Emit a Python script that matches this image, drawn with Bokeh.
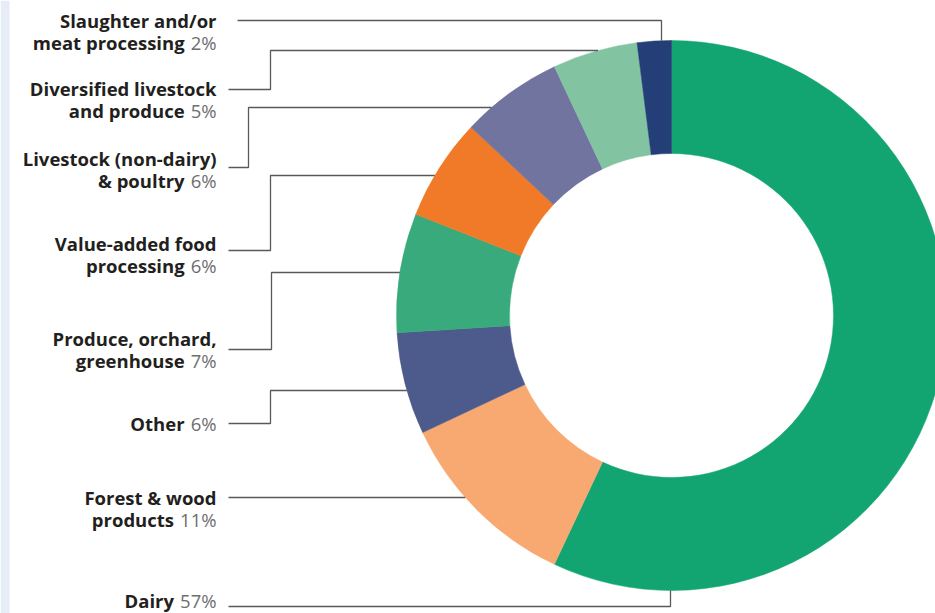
import math
from bokeh.plotting import figure
from bokeh.models import Range1d, ColumnDataSource
from bokeh.core.properties import value
from bokeh.embed import file_html
from bokeh.resources import INLINE

# ---- data ----
categories = ["Dairy", "Forest & wood products", "Other", "Produce, orchard, greenhouse",
              "Value-added food processing", "Livestock (non-dairy) & poultry",
              "Diversified livestock and produce", "Slaughter and/or meat processing"]
shares = [57, 11, 6, 7, 6, 6, 5, 2]
label_lines = [["Dairy"], ["Forest & wood", "products"], ["Other"],
               ["Produce, orchard,", "greenhouse"], ["Value-added food", "processing"],
               ["Livestock (non-dairy)", "& poultry"], ["Diversified livestock", "and produce"],
               ["Slaughter and/or", "meat processing"]]
colors = ["#12A572", "#F8A972", "#4C5A8C", "#38AA7C", "#F07A28", "#7274A0", "#82C3A2", "#243F78"]

# ---- layout (screen px) ----
W, H = 935, 613
CX, CY = 671, 315
R_OUT, R_IN = 275, 162
FS = 18.5
TEXT_RIGHT = 216
first_line_y = [600, 497, 423, 338, 243, 158, 88, 20]
LINE_GAP = 22
# leader: (start x, anchor y, elbow x or None, target y)
leaders = [(228, 606, 670, None), (228, 497, None, 497), (228, 423, 270, 390),
           (228, 349, 271, 272), (228, 250, 270, 175), (228, 167, 248, 107),
           (228, 89, 270, 50), (237, 20, 661, None)]


def Y(sy):
    return H - sy


p = figure(width=W, height=H, output_backend="svg", toolbar_location=None,
           x_range=Range1d(0, W), y_range=Range1d(0, H),
           x_axis_location=None, y_axis_location=None, min_border=0)
p.grid.visible = False
p.outline_line_color = None
p.background_fill_color = "white"

total = float(sum(shares))
starts, ends = [], []
cum = 0.0
for s in shares:
    starts.append(math.pi / 2 - 2 * math.pi * cum / total)
    cum += s
    ends.append(math.pi / 2 - 2 * math.pi * cum / total)

src = ColumnDataSource(dict(x=[CX] * len(shares), y=[Y(CY)] * len(shares),
                            start=starts, end=ends, color=colors, cat=categories))
p.annular_wedge(x="x", y="y", inner_radius=R_IN, outer_radius=R_OUT,
                start_angle="start", end_angle="end", direction="clock",
                fill_color="color", line_color="color", line_width=0.5, source=src)

# left page strip
p.quad(left=0, right=9, bottom=0, top=H, fill_color="#E6EDF8", line_color=None)

# leader lines
xs, ys = [], []
for (x0, ay, ex, ty) in leaders:
    if ex is None:
        xe = CX - math.sqrt(R_OUT ** 2 - (CY - ty) ** 2)
        xs.append([x0, xe]); ys.append([Y(ay), Y(ay)])
    elif ty is None:
        dy = math.sqrt(R_OUT ** 2 - (ex - CX) ** 2)
        yt = CY + dy if ay > CY else CY - dy
        xs.append([x0, ex, ex]); ys.append([Y(ay), Y(ay), Y(yt)])
    else:
        xe = CX - math.sqrt(R_OUT ** 2 - (CY - ty) ** 2)
        xs.append([x0, ex, ex, xe]); ys.append([Y(ay), Y(ay), Y(ty), Y(ty)])
p.multi_line(xs=xs, ys=ys, line_color="#58595B", line_width=1.3)

# labels
DIGIT, PCT, SPACE = 0.572, 0.833, 0.32
bx, by, bt, px, py, pt = [], [], [], [], [], []
for lines, share, y0 in zip(label_lines, shares, first_line_y):
    pct = f"{share}%"
    pw = (len(str(share)) * DIGIT + PCT + SPACE) * FS
    for i, ln in enumerate(lines):
        sy = y0 + i * LINE_GAP
        if i == len(lines) - 1:
            bx.append(TEXT_RIGHT - pw)
            px.append(TEXT_RIGHT); py.append(Y(sy)); pt.append(pct)
        else:
            bx.append(TEXT_RIGHT)
        by.append(Y(sy)); bt.append(ln)

p.text(x=bx, y=by, text=bt, text_align="right", text_baseline="middle",
       text_font=value("Open Sans"), text_font_style="bold", text_font_size=f"{FS}px",
       text_color="#231F20")
p.text(x=px, y=py, text=pt, text_align="right", text_baseline="middle",
       text_font=value("Open Sans"), text_font_size=f"{FS}px", text_color="#6D6E71")

open("out.html", "w").write(file_html(p, INLINE))
